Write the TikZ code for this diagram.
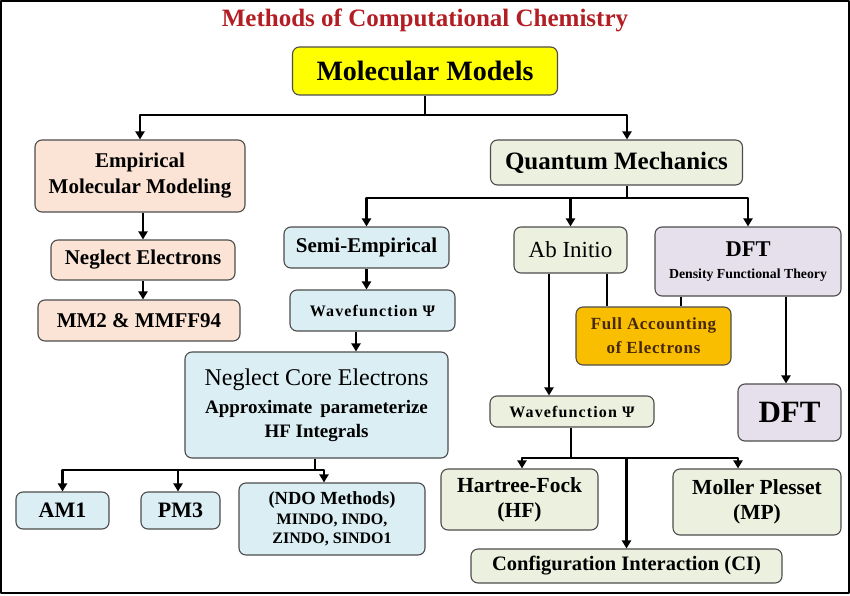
\documentclass[tikz,border=0pt]{standalone}
\usepackage{fontspec}
\setmainfont{Liberation Serif}
\usetikzlibrary{arrows.meta}

\definecolor{titlered}{RGB}{178,30,35}
\definecolor{boxyellow}{RGB}{255,255,0}
\definecolor{boxpeach}{RGB}{251,228,213}
\definecolor{boxblue}{RGB}{219,238,244}
\definecolor{boxgreen}{RGB}{235,241,222}
\definecolor{boxlilac}{RGB}{229,224,236}
\definecolor{boxorange}{RGB}{250,190,0}
\definecolor{darkbrown}{RGB}{70,40,10}

\tikzset{
  box/.style={draw=black!70, line width=1.1pt, rounded corners=7pt, align=center, inner sep=0pt},
  link/.style={line width=2.6pt},
  arr/.style={line width=2.6pt, -{Triangle[width=9pt,length=8pt]}},
}

\newcommand{\fs}[2]{\fontsize{#1}{#2}\selectfont}
\newcommand{\wave}{\fs{16}{19}\bfseries\addfontfeature{LetterSpace=7}Wavefunction Ψ}

\begin{document}
\begin{tikzpicture}[x=1pt, y=-1pt, line join=round]
	% Khung tranh
	\useasboundingbox (0,0) rectangle (850,596);
	\draw[line width=1.5pt] (1,1) rectangle (849,593);
	
	% Tieu de
	\node[font=\fs{25}{30}\bfseries, text=titlered] (title) at (425,20) {Methods of Computational Chemistry};
	
	% Cap 1
	\node[box, fill=boxyellow, minimum width=265, minimum height=48, font=\fs{28}{32}\bfseries] (mol) at (425,71) {Molecular Models};
	
	% Nhanh thuc nghiem
	\node[box, fill=boxpeach, minimum width=210, minimum height=72, font=\fs{21}{26}\bfseries] (emp) at (140,176) {Empirical\\Molecular Modeling};
	\node[box, fill=boxpeach, minimum width=184, minimum height=40, font=\fs{21}{25}\bfseries] (negel) at (143,260) {Neglect Electrons};
	\node[box, fill=boxpeach, minimum width=202, minimum height=41, font=\fs{21}{25}\bfseries] (mm) at (139,320.5) {MM2 \& MMFF94};
	
	% Nhanh luong tu
	\node[box, fill=boxgreen, minimum width=252, minimum height=45, font=\fs{25}{30}\bfseries] (qm) at (616.5,162.5) {Quantum Mechanics};
	
	% Ban thuc nghiem
	\node[box, fill=boxblue, minimum width=165, minimum height=41, font=\fs{21}{25}\bfseries] (semi) at (366.5,247.5) {Semi-Empirical};
	\node[box, fill=boxblue, minimum width=165, minimum height=41] (wfl) at (372.5,310.5) {\wave};
	\node[box, fill=boxblue, minimum width=263, minimum height=106, font=\fs{19}{24}\bfseries] (core) at (316.5,405) {{\mdseries\fs{24}{24}Neglect Core Electrons}\\[4pt]Approximate\, parameterize\\HF Integrals};
	\node[box, fill=boxblue, minimum width=93, minimum height=37, font=\fs{22}{26}\bfseries] (am1) at (62.5,510.5) {AM1};
	\node[box, fill=boxblue, minimum width=79, minimum height=37, font=\fs{22}{26}\bfseries] (pm3) at (180.5,510.5) {PM3};
	\node[box, fill=boxblue, minimum width=186, minimum height=72, font=\fs{16}{19}\bfseries] (ndo) at (332,519) {{\fs{18.5}{19}(NDO Methods)}\\[1pt]MINDO, INDO,\\ZINDO, SINDO1};
	
	% Ab initio
	\node[box, fill=boxgreen, minimum width=113, minimum height=46, font=\fs{23}{27}] (abinit) at (570.5,250) {Ab Initio};
	\node[box, fill=boxorange, minimum width=155, minimum height=58, text=darkbrown, font=\fs{17}{24}\bfseries\addfontfeature{LetterSpace=4}] (full) at (653.5,336) {Full Accounting\\of Electrons};
	\node[box, fill=boxgreen, minimum width=164, minimum height=31] (wfr) at (572,411.5) {\wave};
	\node[box, fill=boxgreen, minimum width=157, minimum height=61, font=\fs{21.5}{25}\bfseries] (hf) at (519.5,499.5) {Hartree-Fock\\(HF)};
	\node[box, fill=boxgreen, minimum width=168, minimum height=66, font=\fs{21.5}{25}\bfseries] (mp) at (757,502) {Moller Plesset\\(MP)};
	\node[box, fill=boxgreen, minimum width=311, minimum height=34, font=\fs{20.5}{24}\bfseries] (ci) at (626.5,566) {Configuration Interaction (CI)};
	
	% DFT
	\node[box, fill=boxlilac, minimum width=186, minimum height=69, font=\fs{13.8}{22}\bfseries] (dft) at (748,261.5) {{\fs{22.5}{22}DFT}\\Density Functional Theory};
	\node[box, fill=boxlilac, minimum width=103, minimum height=57, font=\fs{31}{34}\bfseries] (dftres) at (789.5,412.5) {DFT};
	
	% Diem nut noi
	\coordinate (j1) at (425,115);
	\coordinate (j2) at (627,198);
	\coordinate (j3) at (315,470);
	\coordinate (j4) at (571,458);
	
	% Mui ten tu Molecular Models
	\draw[link] (mol.south) -- (j1);
	\draw[arr] (j1) -| (emp.north);
	\draw[arr] (j1) -| ([xshift=10.5pt]qm.north);
	
	% Nhanh thuc nghiem
	\draw[arr] (emp.south -| negel.north) -- (negel.north);
	\draw[arr] (negel.south) -- (negel.south |- mm.north);
	
	% Nhanh luong tu
	\draw[link] ([xshift=10.5pt]qm.south) -- (j2);
	\draw[arr] (j2) -| (semi.north);
	\draw[arr] (j2) -| (abinit.north);
	\draw[arr] (j2) -| (dft.north);
	
	% Ban thuc nghiem
	\draw[arr] (semi.south) -- (semi.south |- wfl.north);
	\draw[arr] ([xshift=-16.5pt]wfl.south) -- ([xshift=-16.5pt]wfl.south |- core.north);
	\draw[link] (core.south -| j3) -- (j3);
	\draw[arr] (j3) -| (am1.north);
	\draw[arr] (j3) -| ([xshift=-2.5pt]pm3.north);
	\draw[arr] (j3) -| ([xshift=-8pt]ndo.north);
	
	% Ab initio va DFT
	\draw[link] ([xshift=36.5pt]abinit.south) -- ([xshift=36.5pt]abinit.south |- full.north);
	\draw[link] ([xshift=-67pt]dft.south) -- ([xshift=-67pt]dft.south |- full.north);
	\draw[arr] ([xshift=-21.5pt]abinit.south) -- ([xshift=-21.5pt]abinit.south |- wfr.north);
	\draw[arr] ([xshift=38pt]dft.south) -- ([xshift=38pt]dft.south |- dftres.north);
	
	% Cac phuong phap ab initio
	\draw[link] (wfr.south -| j4) -- (j4);
	\draw[arr] (j4) -| ([xshift=2.5pt]hf.north);
	\draw[arr] (j4) -| (ci.north);
	\draw[arr] (j4) -| ([xshift=-19pt]mp.north);
\end{tikzpicture}
\end{document}
